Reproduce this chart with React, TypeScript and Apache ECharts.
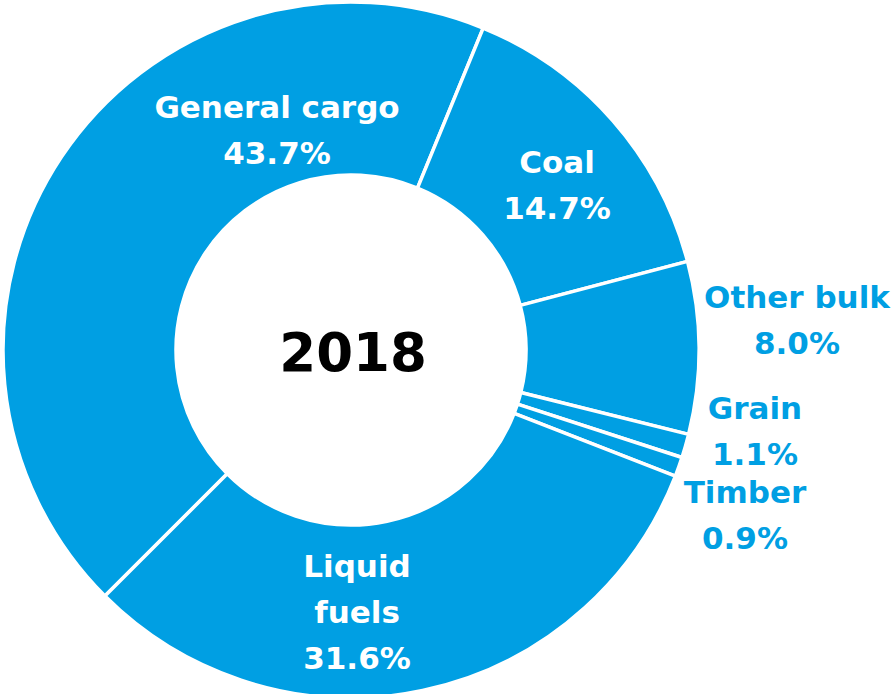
import React, { useEffect, useRef } from "react";
import * as echarts from "echarts";

const categories = ["General cargo", "Coal", "Other bulk", "Grain", "Timber", "Liquid fuels"];
const shares = [43.7, 14.7, 8.0, 1.1, 0.9, 31.6];
const centerLabel = "2018";

const BLUE = "#009fe3";
const FONT = "'DejaVu Sans', sans-serif";

// label anchor positions (px) and whether label sits outside the ring
const labelSpots: Record<string, { x: number; y: number; outside: boolean }> = {
  "General cargo": { x: 277, y: 130, outside: false },
  Coal: { x: 557, y: 185, outside: false },
  "Other bulk": { x: 797, y: 320, outside: true },
  Grain: { x: 755, y: 431, outside: true },
  Timber: { x: 745, y: 515, outside: true },
  "Liquid fuels": { x: 357, y: 612, outside: false },
};

export default function App() {
  const ref = useRef<HTMLDivElement>(null);
  useEffect(() => {
    if (!ref.current) return;
    const chart = echarts.init(ref.current, null, { renderer: "svg" });
    const data = categories.map((name, i) => {
      const spot = labelSpots[name];
      return {
        name,
        value: shares[i],
        label: {
          color: spot.outside ? BLUE : "#ffffff",
        },
      };
    });
    chart.setOption({
      animation: false,
      backgroundColor: "#ffffff",
      graphic: [
        {
          type: "text",
          x: 353,
          y: 352,
          style: {
            text: centerLabel,
            fill: "#000000",
            font: `bold 53px ${FONT}`,
            textAlign: "center",
            textVerticalAlign: "middle",
          },
        },
      ],
      series: [
        {
          type: "pie",
          center: [351, 350],
          radius: [175, 348],
          startAngle: -135,
          clockwise: true,
          avoidLabelOverlap: false,
          itemStyle: { color: BLUE, borderColor: "#ffffff", borderWidth: 3.5 },
          emphasis: { disabled: true },
          labelLine: { show: false },
          label: {
            show: true,
            position: "inside",
            fontFamily: FONT,
            fontWeight: "bold",
            fontSize: 31,
            lineHeight: 46,
            align: "center",
            verticalAlign: "middle",
            formatter: (p: any) => {
              const nm = p.name === "Liquid fuels" ? "Liquid\nfuels" : p.name;
              return `${nm}\n${Number(p.value).toFixed(1)}%`;
            },
          },
          labelLayout: (params: any) => {
            const spot = labelSpots[categories[params.dataIndex]];
            return { x: spot.x, y: spot.y, align: "center", verticalAlign: "middle" };
          },
          data,
        },
      ],
    });
    return () => chart.dispose();
  }, []);
  return (
    <div
      ref={ref}
      style={{ position: "fixed", left: 0, top: 0, width: 895, height: 694 }}
    />
  );
}
